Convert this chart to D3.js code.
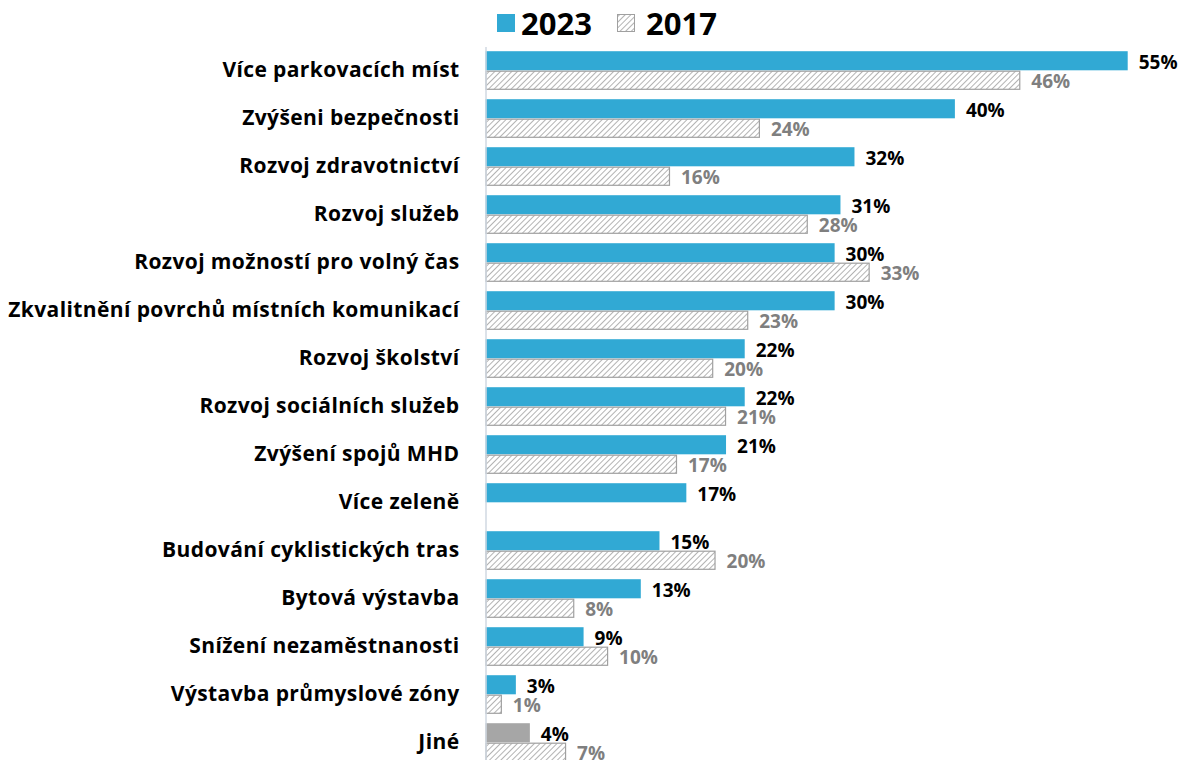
<!DOCTYPE html>
<html>
<head>
<meta charset="utf-8">
<script src="https://cdn.jsdelivr.net/npm/d3@7"></script>
<style>
  body { margin: 0; background: #fff; }
  svg text { font-family: "Open Sans", "Noto Sans", sans-serif; font-weight: bold; }
</style>
</head>
<body>
<svg width="1181" height="760"></svg>
<script>
'use strict'

var categories = [
  "Více parkovacích míst",
  "Zvýšeni bezpečnosti",
  "Rozvoj zdravotnictví",
  "Rozvoj služeb",
  "Rozvoj možností pro volný čas",
  "Zkvalitnění povrchů místních komunikací",
  "Rozvoj školství",
  "Rozvoj sociálních služeb",
  "Zvýšení spojů MHD",
  "Více zeleně",
  "Budování cyklistických tras",
  "Bytová výstavba",
  "Snížení nezaměstnanosti",
  "Výstavba průmyslové zóny",
  "Jiné"
];

var series = ["2023", "2017"];

// bar lengths (%)
var values2023 = [55, 40.2, 31.6, 30.4, 29.9, 29.9, 22.2, 22.2, 20.6, 17.2, 14.9, 13.3, 8.4, 2.6, 3.8];
var values2017 = [45.8, 23.5, 15.8, 27.6, 32.9, 22.5, 19.5, 20.6, 16.4, null, 19.7, 7.6, 10.5, 1.4, 6.9];

// printed data labels
var labels2023 = ["55%", "40%", "32%", "31%", "30%", "30%", "22%", "22%", "21%", "17%", "15%", "13%", "9%", "3%", "4%"];
var labels2017 = ["46%", "24%", "16%", "28%", "33%", "23%", "20%", "21%", "17%", "", "20%", "8%", "10%", "1%", "7%"];

var svg = d3.select("svg"),
  margin = { top: 46.5, left: 485.5 };

var x = d3.scaleLinear().domain([0, 55]).range([margin.left, 1127.7]);

var y = d3.scaleBand()
  .domain(categories)
  .range([margin.top, margin.top + 48 * categories.length])
  .paddingInner(0.18)
  .paddingOuter(0.09);

var ySub = d3.scaleBand().domain(series).range([0, y.bandwidth()]).padding(0.02);

var blue = "#31a9d4";

// hatch pattern for 2017
var defs = svg.append("defs");
var pat = defs.append("pattern")
  .attr("id", "hatch")
  .attr("patternUnits", "userSpaceOnUse")
  .attr("width", 4)
  .attr("height", 4)
  .attr("patternTransform", "rotate(45)");
pat.append("rect").attr("width", 4).attr("height", 4).attr("fill", "#fff");
pat.append("line")
  .attr("x1", 0).attr("y1", 0).attr("x2", 0).attr("y2", 4)
  .attr("stroke", "#7f7f7f").attr("stroke-width", 1.2);

var data = categories.map(function(c, i) {
  return {
    cat: c,
    v23: values2023[i], l23: labels2023[i],
    v17: values2017[i], l17: labels2017[i]
  };
});

var groups = svg.append("g").selectAll("g")
  .data(data)
  .enter()
  .append("g")
  .attr("transform", function(d) { return "translate(0," + y(d.cat) + ")"; });

// 2023 bars
groups.append("rect")
  .attr("x", x(0))
  .attr("y", ySub("2023"))
  .attr("width", function(d) { return x(d.v23) - x(0); })
  .attr("height", ySub.bandwidth())
  .attr("fill", function(d) { return d.cat === "Jiné" ? "#a6a6a6" : blue; });

groups.append("text")
  .attr("x", function(d) { return x(d.v23) + 11; })
  .attr("y", ySub("2023") + ySub.bandwidth() / 2 + 1.5)
  .attr("dy", "0.36em")
  .attr("font-size", 19)
  .attr("fill", "#000")
  .text(function(d) { return d.l23; });

// 2017 bars
var g17 = groups.filter(function(d) { return d.v17 != null; });

g17.append("rect")
  .attr("x", x(0) + 0.5)
  .attr("y", ySub("2017") + 0.5)
  .attr("width", function(d) { return x(d.v17) - x(0) - 1; })
  .attr("height", ySub.bandwidth() - 1)
  .attr("fill", "url(#hatch)")
  .attr("stroke", "#a0a0a0")
  .attr("stroke-width", 1.2);

g17.append("text")
  .attr("x", function(d) { return x(d.v17) + 11; })
  .attr("y", ySub("2017") + ySub.bandwidth() / 2 + 1)
  .attr("dy", "0.36em")
  .attr("font-size", 19)
  .attr("fill", "#7f7f7f")
  .text(function(d) { return d.l17; });

// category axis
var yAxis = d3.axisLeft(y).tickSize(0).tickPadding(26);
var axisG = svg.append("g")
  .attr("transform", "translate(" + margin.left + ",0)")
  .call(yAxis);
axisG.select(".domain").attr("stroke", "#d0d8e2").attr("stroke-width", 1.5);
axisG.selectAll("text")
  .attr("font-size", 21)
  .attr("letter-spacing", 0.4)
  .attr("fill", "#000")
  .attr("font-family", "\"Open Sans\", sans-serif")
  .attr("font-weight", "bold");

// legend
var legend = svg.append("g").attr("class", "legend");
legend.append("rect")
  .attr("x", 497).attr("y", 14).attr("width", 18).attr("height", 18)
  .attr("fill", blue);
legend.append("text")
  .attr("x", 521).attr("y", 24).attr("dy", "0.36em")
  .attr("font-size", 31).text(series[0]);
legend.append("rect")
  .attr("x", 617.5).attr("y", 14.5).attr("width", 17).attr("height", 17)
  .attr("fill", "url(#hatch)").attr("stroke", "#a0a0a0");
legend.append("text")
  .attr("x", 646).attr("y", 24).attr("dy", "0.36em")
  .attr("font-size", 31).text(series[1]);
</script>
</body>
</html>
